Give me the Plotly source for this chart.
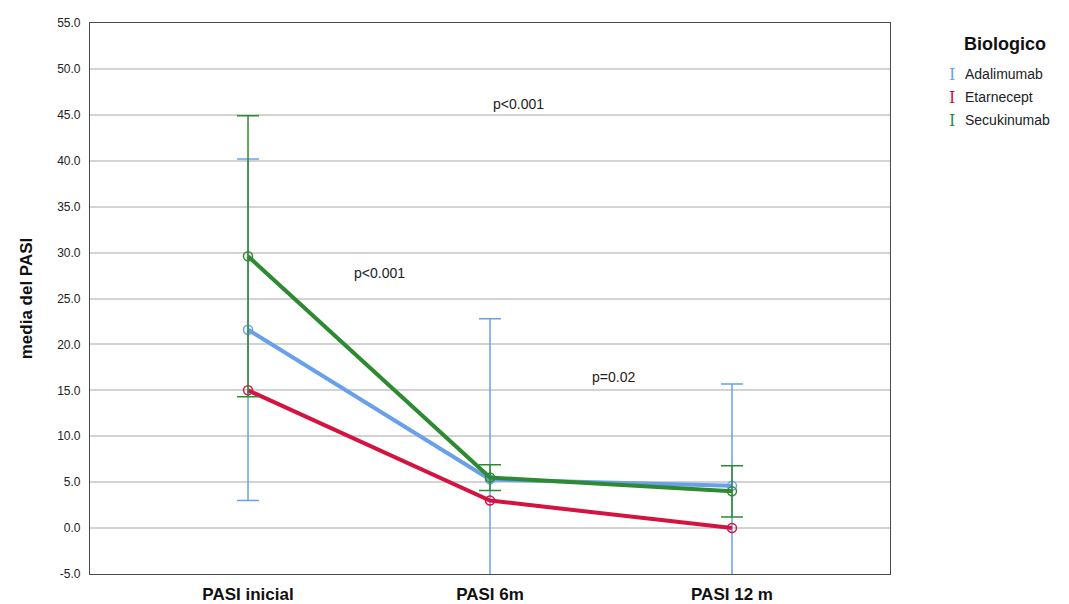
import plotly.graph_objects as go

categories = ["PASI inicial", "PASI 6m", "PASI 12 m"]
series_names = ["Adalimumab", "Etarnecept", "Secukinumab"]
colors = ["#68a0ea", "#d41340", "#2e8a30"]

y_tick_values = [-5, 0, 5, 10, 15, 20, 25, 30, 35, 40, 45, 50, 55]
y_tick_labels = ["-5.0", "0.0", "5.0", "10.0", "15.0", "20.0", "25.0", "30.0", "35.0", "40.0", "45.0", "50.0", "55.0"]

adalimumab_mean = [21.6, 5.3, 4.6]
adalimumab_upper = [40.2, 22.8, 15.7]
adalimumab_lower = [3.0, -12.2, -6.5]

etarnecept_mean = [15.0, 3.0, 0.0]

secukinumab_mean = [29.6, 5.5, 4.0]
secukinumab_upper = [44.9, 6.9, 6.8]
secukinumab_lower = [14.3, 4.1, 1.2]

annotations_text = ["p<0.001", "p<0.001", "p=0.02"]
annotations_x = [1.116, 0.545, 1.512]
annotations_y = [46.2, 27.8, 16.4]

xs = [0, 1, 2]

L, R, T, B = 90, 179, 23, 30
W, H = 1069, 604
pw, ph = W - L - R, H - T - B

def px_x(v):
    return (v - L) / pw

def px_y(v):
    return (H - B - v) / ph

fig = go.Figure()

def add_series(name, color, mean, upper=None, lower=None):
    err = None
    if upper is not None:
        err = dict(type="data", symmetric=False,
                   array=[u - m for u, m in zip(upper, mean)],
                   arrayminus=[m - l for m, l in zip(mean, lower)],
                   color=color, thickness=1.5, width=11)
    fig.add_trace(go.Scatter(
        x=xs, y=mean, name=name, mode="lines+markers",
        line=dict(color=color, width=4),
        marker=dict(symbol="circle-open", size=9, color=color, line=dict(width=1.5, color=color)),
        error_y=err, showlegend=False, cliponaxis=True))

add_series(series_names[0], colors[0], adalimumab_mean, adalimumab_upper, adalimumab_lower)
add_series(series_names[1], colors[1], etarnecept_mean)
add_series(series_names[2], colors[2], secukinumab_mean, secukinumab_upper, secukinumab_lower)

anns = []
for t, x, y in zip(annotations_text, annotations_x, annotations_y):
    anns.append(dict(x=x, y=y, text=t, showarrow=False, xref="x", yref="y",
                     font=dict(family="Liberation Sans, Arial", size=14, color="#222")))

anns.append(dict(x=px_x(1005), y=px_y(44), xref="paper", yref="paper", text="<b>Biologico</b>",
                 showarrow=False, xanchor="center", yanchor="middle",
                 font=dict(family="Liberation Sans, Arial", size=18, color="#111")))
for i, (n, c) in enumerate(zip(series_names, colors)):
    yp = 74 + i * 23
    anns.append(dict(x=px_x(952), y=px_y(yp), xref="paper", yref="paper", text="I", showarrow=False,
                     xanchor="center", yanchor="middle",
                     font=dict(family="DejaVu Serif, Liberation Serif", size=16, color=c)))
    anns.append(dict(x=px_x(963), y=px_y(yp), xref="paper", yref="paper", text=n, showarrow=False,
                     xanchor="left", yanchor="middle",
                     font=dict(family="Liberation Sans, Arial", size=14, color="#222")))

fig.update_layout(
    width=W, height=H,
    margin=dict(l=L, r=R, t=T, b=B, autoexpand=False),
    paper_bgcolor="white", plot_bgcolor="white",
    annotations=anns,
    xaxis=dict(range=[-0.653, 2.653], tickvals=xs, ticktext=["<b>%s</b>" % c for c in categories],
               showgrid=False, zeroline=False, showline=True, mirror=True, automargin=False,
               linecolor="#4a4a4a", linewidth=1.2, ticks="", ticklabelstandoff=4,
               tickfont=dict(family="Liberation Sans, Arial", size=17, color="#111")),
    yaxis=dict(range=[-5, 55], tickvals=y_tick_values, ticktext=y_tick_labels, automargin=False,
               showgrid=True, gridcolor="#d3d3d3", gridwidth=1.5, zeroline=False,
               showline=True, mirror=True, linecolor="#4a4a4a", linewidth=1.2,
               ticks="", ticklabelstandoff=6,
               tickfont=dict(family="Liberation Sans, Arial", size=12, color="#222"),
               title=dict(text="<b>media del PASI</b>", standoff=20,
                          font=dict(family="Liberation Sans, Arial", size=17, color="#111"))),
)

fig.write_html("out.html")
